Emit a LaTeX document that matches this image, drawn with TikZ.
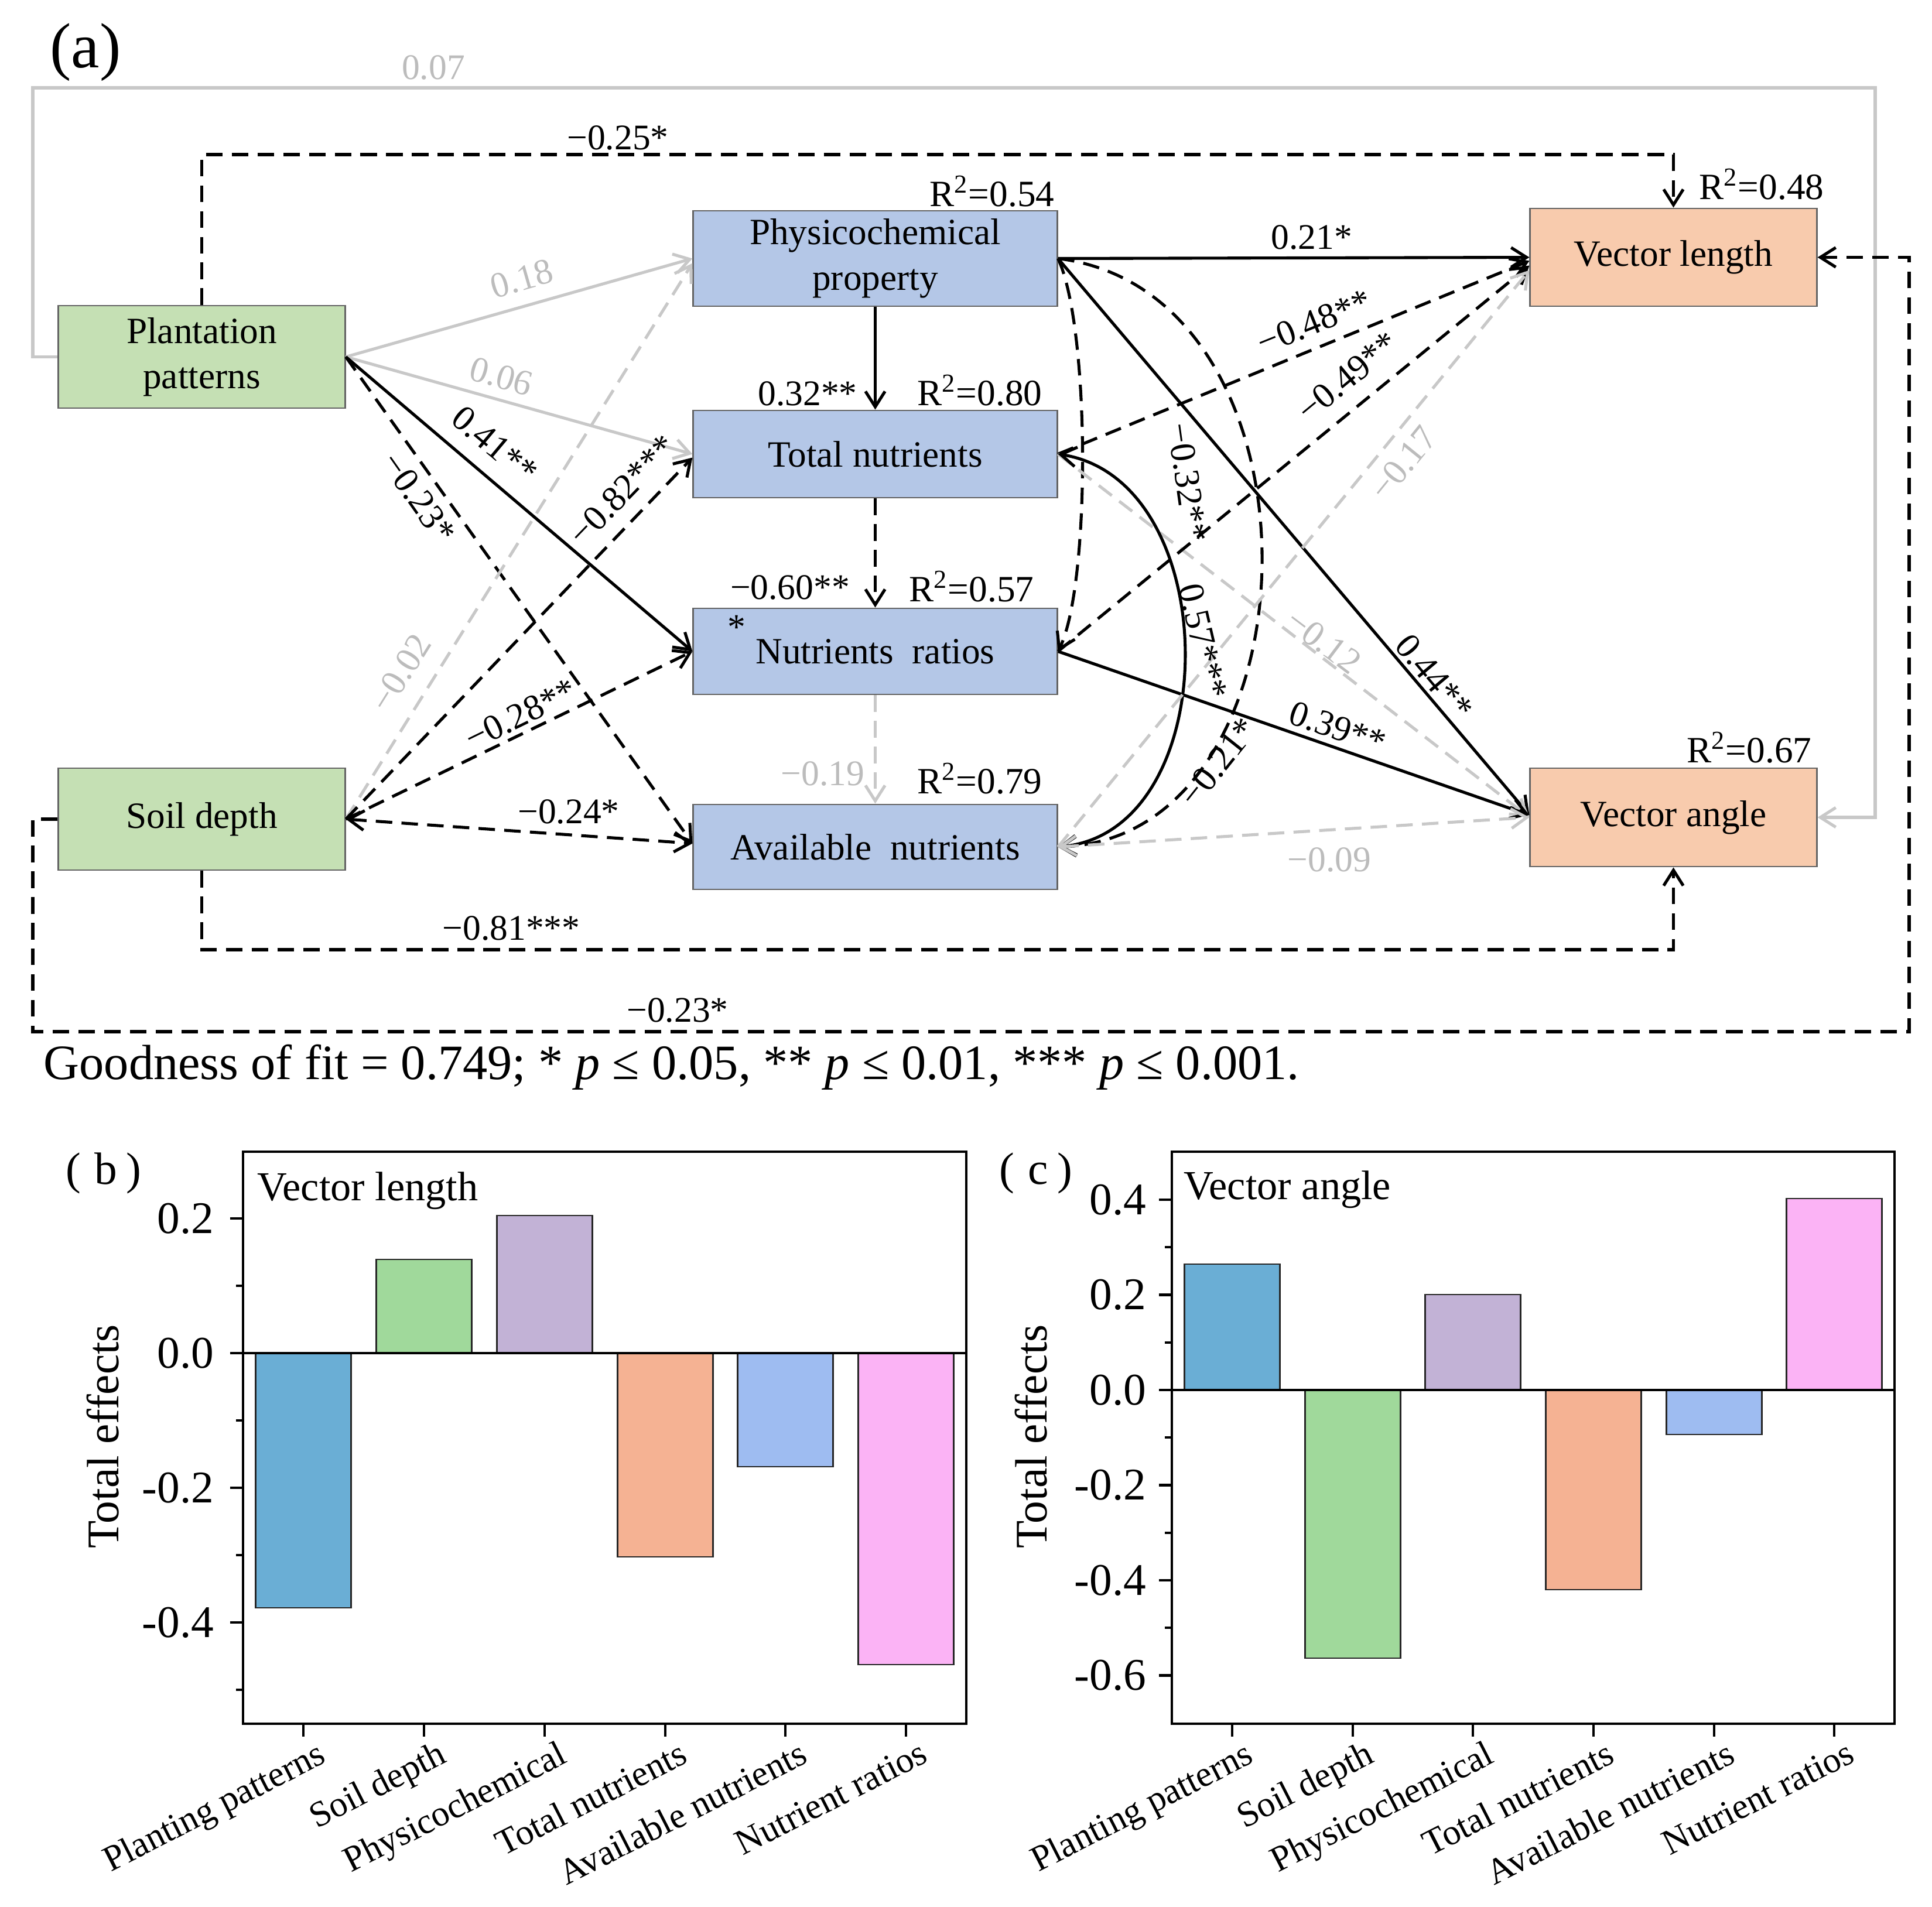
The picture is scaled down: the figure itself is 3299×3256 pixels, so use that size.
\documentclass[tikz,border=0pt]{standalone}
\usepackage{fontspec}
\setmainfont{Liberation Serif}
\usetikzlibrary{arrows.meta}
\definecolor{gfill}{RGB}{197,224,180}
\definecolor{bfill}{RGB}{180,199,231}
\definecolor{ofill}{RGB}{248,203,173}
\definecolor{boxline}{RGB}{100,100,100}
\definecolor{lgray}{RGB}{200,200,200}
\definecolor{tgray}{RGB}{188,188,188}
\definecolor{cPP}{RGB}{106,174,213}
\definecolor{cSD}{RGB}{160,217,155}
\definecolor{cPC}{RGB}{194,178,214}
\definecolor{cTN}{RGB}{245,178,147}
\definecolor{cAN}{RGB}{158,188,241}
\definecolor{cNR}{RGB}{251,179,245}
\begin{document}
\begin{tikzpicture}[x=0.01cm,y=-0.01cm,
  box/.style={draw=boxline,line width=0.8pt,inner sep=0pt,align=center,font=\fontsize{18}{22}\selectfont},
  lab/.style={inner sep=0pt,font=\fontsize{17.5}{20}\selectfont},
  rlab/.style={inner sep=0pt,font=\fontsize{18}{20}\selectfont},
  glab/.style={lab,text=tgray},
  sol/.style={line width=1.45pt,draw=black},
  dsh/.style={sol,dash pattern=on 8pt off 4.5pt},
  gsol/.style={line width=1.45pt,draw=lgray},
  gdsh/.style={gsol,dash pattern=on 8pt off 4.5pt},
  arr/.style={-{Straight Barb[length=7.5pt,width=9.5pt]}},
  darr/.style={{Straight Barb[length=7.5pt,width=9.5pt]}-{Straight Barb[length=7.5pt,width=9.5pt]}},
  tk/.style={line width=1.2pt},
  axl/.style={inner sep=0pt,font=\fontsize{22}{26}\selectfont},
  xl/.style={inner sep=0pt,font=\fontsize{17.5}{20}\selectfont,rotate=27,anchor=north east},
  bar/.style={draw=black!85,line width=0.7pt},
]
\useasboundingbox (0,0) rectangle (3299,3256);

% ---------- boxes ----------
\node[box,fill=gfill,minimum width=4.89cm,minimum height=1.75cm] (PP) at (344.5,609.5) {Plantation\\patterns};
\node[box,fill=gfill,minimum width=4.89cm,minimum height=1.74cm] (SD) at (344.5,1399) {Soil depth};
\node[box,fill=bfill,minimum width=6.21cm,minimum height=1.63cm] (PC) at (1494.5,441.5) {Physicochemical\\property};
\node[box,fill=bfill,minimum width=6.21cm,minimum height=1.49cm] (TN) at (1494.5,775.5) {Total nutrients};
\node[box,fill=bfill,minimum width=6.21cm,minimum height=1.47cm] (NR) at (1494.5,1112.5) {Nutrients\ \ ratios};
\node[box,fill=bfill,minimum width=6.21cm,minimum height=1.45cm] (AN) at (1494.5,1446.5) {Available\ \ nutrients};
\node[box,fill=ofill,minimum width=4.89cm,minimum height=1.67cm] (VL) at (2857.5,439.5) {Vector length};
\node[box,fill=ofill,minimum width=4.89cm,minimum height=1.68cm] (VA) at (2857.5,1396) {Vector angle};

% ---------- long routed paths ----------
\draw[gsol,arr] (PP.west) -- (PP.west -| 56,0) -- (56,150) -- (3202,150) |- (VA.east);
\draw[dsh,arr] (PP.north) -- (PP.north |- 0,264) -| (VL.north);
\draw[dsh,arr] (SD.south) -- (SD.south |- 0,1622) -| (VA.south);
\draw[dsh,arr] (SD.west) -- (SD.west -| 56,0) -- (56,1762) -- (3260,1762) |- (VL.east);

% ---------- from plantation patterns ----------
\draw[gsol,arr] (PP.east) -- (PC.west);
\draw[gsol,arr] (PP.east) -- (TN.west);
\draw[sol,arr] (PP.east) -- (NR.west);
\draw[dsh,arr] (PP.east) -- ([yshift=0.06cm]AN.west);

% ---------- from soil depth ----------
\draw[gdsh,arr] (SD.east) -- ([yshift=-0.08cm]PC.west);
\draw[dsh,arr] (SD.east) -- ([yshift=-0.06cm]TN.west);
\draw[dsh,arr] (SD.east) -- (NR.west);
\draw[dsh,darr] (SD.east) -- ([yshift=0.06cm]AN.west);

% ---------- vertical ----------
\draw[sol,arr] (PC.south) -- (TN.north);
\draw[dsh,arr] (TN.south) -- (NR.north);
\draw[gdsh,arr] (NR.south) -- (AN.north);

% ---------- from physicochemical ----------
\draw[sol,arr] (PC.east) -- (VL.west);
\draw[sol,arr] (PC.east) -- ([yshift=0.04cm]VA.west);
\draw[dsh,arr] (PC.east) .. controls (1862,560) and (1862,1000) .. (NR.east);
\draw[dsh,arr] (PC.east) .. controls (2280,500) and (2260,1430) .. (AN.east);

% ---------- from total nutrients ----------
\draw[dsh,arr] (TN.east) -- ([yshift=-0.06cm]VL.west);
\draw[gdsh,arr] (TN.east) -- (VA.west);
\draw[sol,darr] (TN.east) .. controls (2094,820) and (2094,1420) .. (AN.east);

% ---------- from nutrient ratios ----------
\draw[dsh,arr] (NR.east) -- ([yshift=-0.14cm]VL.west);
\draw[sol,arr] (NR.east) -- ([yshift=0.04cm]VA.west);

% ---------- from available nutrients ----------
\draw[gdsh,arr] (AN.east) -- ([yshift=-0.22cm]VL.west);
\draw[gdsh,darr] (AN.east) -- (VA.west);

% ---------- labels ----------
\node[inner sep=0pt,font=\fontsize{31}{34}\selectfont] (la) at (146,89) {(a)};
\node[glab] (l007) at (740,115) {0.07};
\node[lab] (l025) at (1055,235) {−0.25*};
\node[glab,rotate=16] (l018) at (891,476) {0.18};
\node[glab,rotate=-16] (l006) at (856,643) {0.06};
\node[lab,rotate=-40] (l041) at (845,760) {0.41**};
\node[lab,rotate=-55] (l023a) at (715,850) {−0.23*};
\node[lab,rotate=46] (l082) at (1063,837) {−0.82***};
\node[lab,rotate=26] (l028) at (889,1220) {−0.28**};
\node[glab,rotate=58] (l002) at (684,1149) {−0.02};
\node[lab] (l024) at (971,1386) {−0.24*};
\node[lab] (l032) at (1379,672) {0.32**};
\node[lab] (l060) at (1349,1003) {−0.60**};
\node[lab] (lst) at (1258,1071) {*};
\node[glab] (l019) at (1405,1321) {−0.19};
\node[rlab,anchor=base east] (r054) at (1801,352) {R\textsuperscript{2}=0.54};
\node[rlab,anchor=base east] (r080) at (1780,692) {R\textsuperscript{2}=0.80};
\node[rlab,anchor=base east] (r057) at (1766,1027) {R\textsuperscript{2}=0.57};
\node[rlab,anchor=base east] (r079) at (1780,1355) {R\textsuperscript{2}=0.79};
\node[rlab,anchor=base west] (r048) at (2901,340) {R\textsuperscript{2}=0.48};
\node[rlab,anchor=base east] (r067) at (3094,1302) {R\textsuperscript{2}=0.67};
\node[lab] (l021) at (2240,405) {0.21*};
\node[lab,rotate=22] (l048) at (2244,550) {−0.48**};
\node[lab,rotate=39.5] (l049) at (2301,643) {−0.49**};
\node[glab,rotate=51] (l017) at (2396,791) {−0.17};
\node[lab,rotate=-82] (l032b) at (2028,824) {−0.32**};
\node[lab,rotate=-77] (l057) at (2054,1095) {0.57***};
\node[lab,rotate=51.5] (l021b) at (2080,1302) {−0.21*};
\node[lab,rotate=-50] (l044) at (2449,1156) {0.44**};
\node[lab,rotate=-19] (l039) at (2284,1243) {0.39**};
\node[glab,rotate=-37] (l012) at (2260,1095) {−0.12};
\node[glab] (l009) at (2270,1468) {−0.09};
\node[lab] (l081) at (873,1585) {−0.81***};
\node[lab] (l023b) at (1157,1725) {−0.23*};
\node[inner sep=0pt,anchor=base west,font=\fontsize{24}{28}\selectfont] (gof) at (74,1843)
  {Goodness of fit = 0.749; * \textit{p} ≤ 0.05, ** \textit{p} ≤ 0.01, *** \textit{p} ≤ 0.001.};

% ================= panel (b) =================
\fill[cPP] (436.5,2311) rectangle (599.5,2746);
\fill[cSD] (642.5,2311) rectangle (805.5,2151);
\fill[cPC] (848.5,2311) rectangle (1011.5,2076);
\fill[cTN] (1054.5,2311) rectangle (1217.5,2659);
\fill[cAN] (1259.5,2311) rectangle (1422.5,2505);
\fill[cNR] (1465.5,2311) rectangle (1628.5,2843);
\draw[bar] (436.5,2311) rectangle (599.5,2746);
\draw[bar] (642.5,2311) rectangle (805.5,2151);
\draw[bar] (848.5,2311) rectangle (1011.5,2076);
\draw[bar] (1054.5,2311) rectangle (1217.5,2659);
\draw[bar] (1259.5,2311) rectangle (1422.5,2505);
\draw[bar] (1465.5,2311) rectangle (1628.5,2843);
\draw[tk] (415,2311) -- (1650,2311);
\draw[tk] (415,1967) rectangle (1650,2944);
\foreach \yy/\tl in {2081/0.2,2311/0.0,2541/-0.2,2771/-0.4}{
  \draw[tk] (415,\yy) -- (393,\yy);
  \node[axl,anchor=east] at (366,\yy) {\tl};
}
\foreach \yy in {2196,2426,2656,2886}{\draw[tk] (415,\yy) -- (403,\yy);}
\foreach \xx in {518,724,930,1136,1341,1547}{\draw[tk] (\xx,2944) -- (\xx,2966);}
\node[xl] at (540,2970) {Planting patterns};
\node[xl] at (746,2970) {Soil depth};
\node[xl] at (952,2970) {Physicochemical};
\node[xl] at (1158,2970) {Total nutrients};
\node[xl] at (1363,2970) {Available nutrients};
\node[xl] at (1569,2970) {Nutrient ratios};
\node[inner sep=0pt,rotate=90,font=\fontsize{22}{26}\selectfont] at (176,2453) {Total effects};
\node[inner sep=0pt,font=\fontsize{22}{26}\selectfont] at (177,2004) {(\hspace{0.3em}b\hspace{0.2em})};
\node[inner sep=0pt,anchor=west,font=\fontsize{20}{24}\selectfont] at (439,2034) {Vector length};

% ================= panel (c) =================
\fill[cPP] (2022.5,2374) rectangle (2185.5,2159);
\fill[cSD] (2228.5,2374) rectangle (2391.5,2832);
\fill[cPC] (2433.5,2374) rectangle (2596.5,2211);
\fill[cTN] (2639.5,2374) rectangle (2802.5,2715);
\fill[cAN] (2845.5,2374) rectangle (3008.5,2450);
\fill[cNR] (3050.5,2374) rectangle (3213.5,2047);
\draw[bar] (2022.5,2374) rectangle (2185.5,2159);
\draw[bar] (2228.5,2374) rectangle (2391.5,2832);
\draw[bar] (2433.5,2374) rectangle (2596.5,2211);
\draw[bar] (2639.5,2374) rectangle (2802.5,2715);
\draw[bar] (2845.5,2374) rectangle (3008.5,2450);
\draw[bar] (3050.5,2374) rectangle (3213.5,2047);
\draw[tk] (2001,2374) -- (3235,2374);
\draw[tk] (2001,1967) rectangle (3235,2944);
\foreach \yy/\tl in {2049/0.4,2211.5/0.2,2374/0.0,2536.5/-0.2,2699/-0.4,2861.5/-0.6}{
  \draw[tk] (2001,\yy) -- (1979,\yy);
  \node[axl,anchor=east] at (1958,\yy) {\tl};
}
\foreach \yy in {2130,2293,2455,2618,2780}{\draw[tk] (2001,\yy) -- (1989,\yy);}
\foreach \xx in {2104,2310,2515,2721,2927,3132}{\draw[tk] (\xx,2944) -- (\xx,2966);}
\node[xl] at (2124,2970) {Planting patterns};
\node[xl] at (2330,2970) {Soil depth};
\node[xl] at (2535,2970) {Physicochemical};
\node[xl] at (2741,2970) {Total nutrients};
\node[xl] at (2947,2970) {Available nutrients};
\node[xl] at (3152,2970) {Nutrient ratios};
\node[inner sep=0pt,rotate=90,font=\fontsize{22}{26}\selectfont] at (1761,2453) {Total effects};
\node[inner sep=0pt,font=\fontsize{22}{26}\selectfont] at (1769,2004) {(\hspace{0.3em}c\hspace{0.2em})};
\node[inner sep=0pt,anchor=west,font=\fontsize{20}{24}\selectfont] at (2021,2032) {Vector angle};
\end{tikzpicture}
\end{document}
